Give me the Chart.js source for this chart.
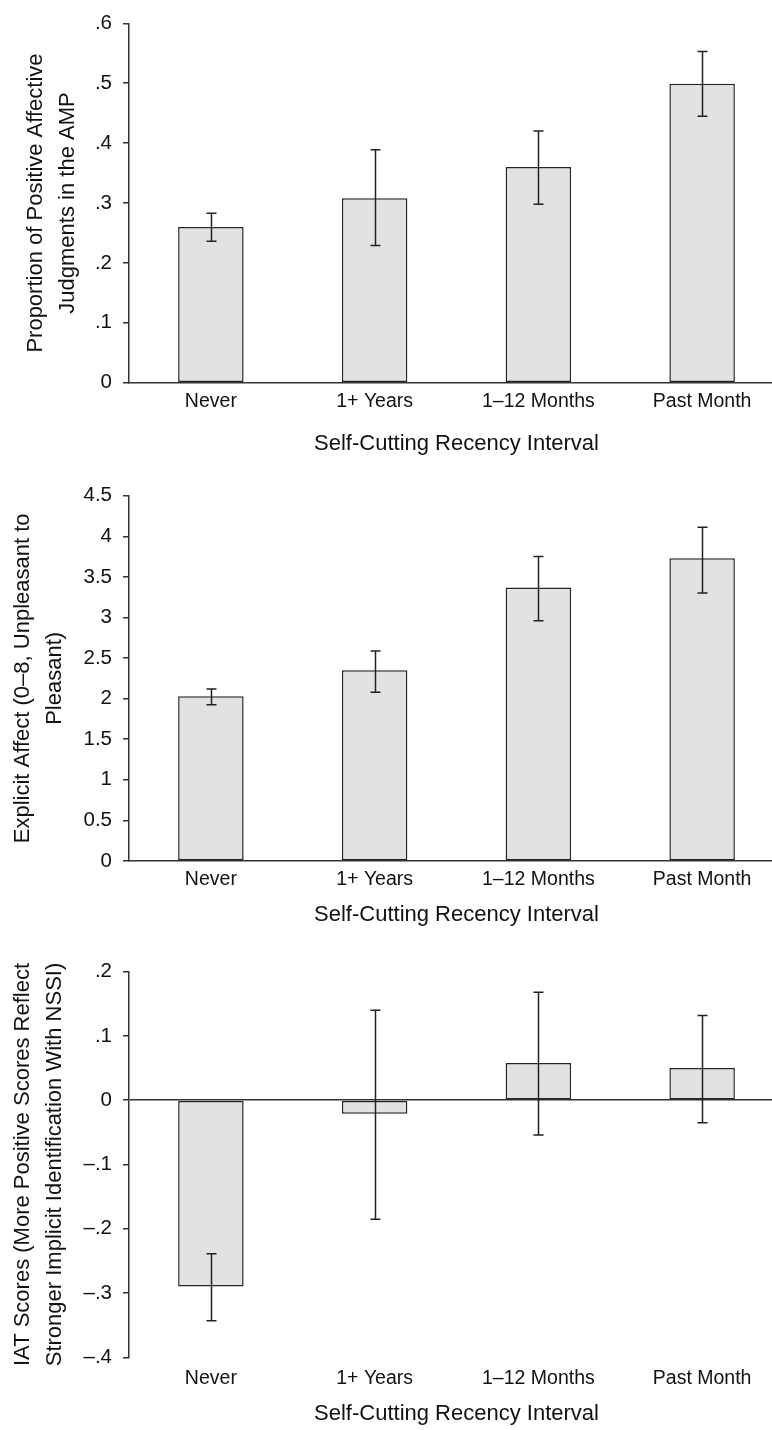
<!DOCTYPE html>
<html>
<head>
<meta charset="utf-8">
<script src="https://cdn.jsdelivr.net/npm/chart.js@4.4.1/dist/chart.umd.min.js"></script>
<style>
  html, body { margin: 0; padding: 0; background: #ffffff; }
  #wrap { position: relative; width: 772px; height: 1430px; overflow: hidden; background: #fff; }
  canvas { position: absolute; left: 0; }
</style>
</head>
<body>
<div id="wrap">
  <canvas id="c1" width="784" height="470" style="top:0px"></canvas>
  <canvas id="c2" width="784" height="470" style="top:470px"></canvas>
  <canvas id="c3" width="784" height="490" style="top:940px"></canvas>
</div>
<script>
// ---------------- DATA ----------------
const categories = ['Never', '1+ Years', '1\u201312 Months', 'Past Month'];
const xAxisTitle = 'Self-Cutting Recency Interval';

// Panel 1: AMP
const ampMeans = [0.260, 0.308, 0.360, 0.499];
const ampLow   = [0.236, 0.229, 0.298, 0.445];
const ampHigh  = [0.283, 0.389, 0.420, 0.553];
const ampTickValues = [0, 0.1, 0.2, 0.3, 0.4, 0.5, 0.6];
const ampTickLabels = ['0', '.1', '.2', '.3', '.4', '.5', '.6'];
const ampTitle = ['Proportion of Positive Affective', 'Judgments in the AMP'];

// Panel 2: Explicit affect
const explicitMeans = [2.03, 2.35, 3.37, 3.73];
const explicitLow   = [1.925, 2.08, 2.96, 3.30];
const explicitHigh  = [2.12, 2.586, 3.75, 4.11];
const explicitTickValues = [0, 0.5, 1, 1.5, 2, 2.5, 3, 3.5, 4, 4.5];
const explicitTickLabels = ['0', '0.5', '1', '1.5', '2', '2.5', '3', '3.5', '4', '4.5'];
const explicitTitle = ['Explicit Affect (0\u20138, Unpleasant to', 'Pleasant)'];

// Panel 3: IAT
const iatMeans = [-0.290, -0.021, 0.058, 0.050];
const iatLow   = [-0.343, -0.185, -0.054, -0.035];
const iatHigh  = [-0.239, 0.140, 0.168, 0.132];
const iatTickValues = [-0.4, -0.3, -0.2, -0.1, 0, 0.1, 0.2];
const iatTickLabels = ['\u2013.4', '\u2013.3', '\u2013.2', '\u2013.1', '0', '.1', '.2'];
const iatTitle = ['IAT Scores (More Positive Scores Reflect', 'Stronger Implicit Identification With NSSI)'];

// ---------------- STYLE ----------------
const FONT = "'Liberation Sans', Arial, sans-serif";
Chart.defaults.font.family = FONT;
Chart.defaults.color = '#111';
const AXIS = '#333';
const BAR_FILL = '#e1e2e4';
const BAR_EDGE = '#262626';

const errorBarPlugin = {
  id: 'errorBars',
  afterDatasetsDraw(chart, args, opts) {
    const meta = chart.getDatasetMeta(0);
    const y = chart.scales.y;
    const ctx = chart.ctx;
    ctx.save();
    ctx.strokeStyle = '#222';
    ctx.lineWidth = 1.5;
    meta.data.forEach((bar, i) => {
      const x = Math.round(bar.x) + 0.5;
      const yl = y.getPixelForValue(opts.low[i]);
      const yh = y.getPixelForValue(opts.high[i]);
      ctx.beginPath();
      ctx.moveTo(x, yl); ctx.lineTo(x, yh);
      ctx.moveTo(x - 5, yl); ctx.lineTo(x + 5, yl);
      ctx.moveTo(x - 5, yh); ctx.lineTo(x + 5, yh);
      ctx.stroke();
    });
    ctx.restore();
  }
};

function makePanel(id, cfg) {
  const labelFor = (v) => {
    const idx = cfg.tickValues.findIndex(t => Math.abs(t - v) < 1e-9);
    return idx >= 0 ? cfg.tickLabels[idx] : '';
  };
  return new Chart(document.getElementById(id), {
    type: 'bar',
    data: {
      labels: categories,
      datasets: [{
        data: cfg.means,
        backgroundColor: BAR_FILL,
        borderColor: BAR_EDGE,
        borderWidth: 1.5,
        borderSkipped: false,
        barPercentage: 0.4,
        categoryPercentage: 1.0
      }]
    },
    options: {
      responsive: false,
      animation: false,
      events: [],
      layout: { padding: { top: cfg.padTop, bottom: cfg.padBottom, left: 0, right: 0 } },
      plugins: {
        legend: { display: false },
        tooltip: { enabled: false },
        errorBars: { low: cfg.low, high: cfg.high }
      },
      scales: {
        x: {
          offset: true,
          grid: { display: false, drawTicks: false, tickLength: 0 },
          border: { display: cfg.showXBorder, color: AXIS, width: 1.5 },
          ticks: { padding: cfg.xTickPad, font: { size: 19.5 }, color: '#111', maxRotation: 0 },
          title: { display: true, text: xAxisTitle, font: { size: 22 }, color: '#111', padding: { top: 0, bottom: 0 } },
          afterFit: (s) => { s.height = cfg.xAxisHeight; }
        },
        y: {
          min: cfg.min, max: cfg.max,
          afterBuildTicks: (s) => { s.ticks = cfg.tickValues.map(v => ({ value: v })); },
          grid: {
            drawOnChartArea: cfg.zeroLine,
            color: (c) => (c.tick && Math.abs(c.tick.value) < 1e-9) ? AXIS : 'rgba(0,0,0,0)',
            tickColor: AXIS,
            tickLength: 6,
            lineWidth: 1.5
          },
          border: { display: true, color: AXIS, width: 1.5 },
          ticks: { padding: 11, font: { size: 20.5 }, color: '#111', callback: (v) => labelFor(v) },
          title: { display: true, text: cfg.title, font: { size: 22, lineHeight: 1.4545 }, color: '#111', padding: { top: cfg.yTitlePad, bottom: 0 } },
          afterFit: (s) => { s.width = 129; }
        }
      }
    },
    plugins: [errorBarPlugin]
  });
}

makePanel('c1', {
  means: ampMeans, low: ampLow, high: ampHigh,
  tickValues: ampTickValues, tickLabels: ampTickLabels, title: ampTitle,
  min: 0, max: 0.6,
  padTop: 18.3, padBottom: 12.8, xAxisHeight: 74.5, xTickPad: 7.6,
  yTitlePad: 20, showXBorder: true, zeroLine: false
});
makePanel('c2', {
  means: explicitMeans, low: explicitLow, high: explicitHigh,
  tickValues: explicitTickValues, tickLabels: explicitTickLabels, title: explicitTitle,
  min: 0, max: 4.5,
  padTop: 25.7, padBottom: 11.8, xAxisHeight: 67.2, xTickPad: 6.8,
  yTitlePad: 7, showXBorder: true, zeroLine: false
});
makePanel('c3', {
  means: iatMeans, low: iatLow, high: iatHigh,
  tickValues: iatTickValues, tickLabels: iatTickLabels, title: iatTitle,
  min: -0.4, max: 0.2,
  padTop: 31.7, padBottom: 2.8, xAxisHeight: 69.9, xTickPad: 9.3,
  yTitlePad: 7, showXBorder: false, zeroLine: true
});
</script>
</body>
</html>
